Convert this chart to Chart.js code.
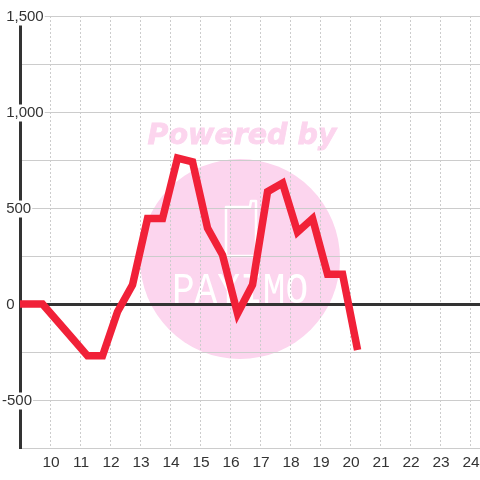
<!DOCTYPE html>
<html><head><meta charset="utf-8">
<style>html,body{margin:0;padding:0;background:#fff}#c{display:block}</style>
<script src="https://cdn.jsdelivr.net/npm/chart.js@4"></script></head>
<body><canvas id="c" width="480" height="480" style="width:480px;height:480px"></canvas>
<script>
const hours = [8.75,9.25,9.75,10.25,10.75,11.25,11.75,12.25,12.75,13.25,13.75,14.25,14.75,15.25,15.75,16.25,16.75,17.25,17.75,18.25,18.75,19.25,19.75,20.25];
const values = [0,0,0,-90,-180,-270,-270,-40,100,445,445,760,740,395,255,-50,100,585,630,375,445,155,155,-240];
const yLabelStep = 500;
const xMin = 9, xMax = 24.33, yMin = -750, yMax = 1500, yStep = 250;

const watermark = {
  id:'watermark',
  beforeDraw(chart){
    const c = chart.ctx; c.save();
    c.fillStyle='#fcd5ee';
    c.beginPath(); c.arc(240,259,100,0,Math.PI*2); c.fill();
    c.font='italic bold 28.5px "DejaVu Sans"';
    c.textAlign='center'; c.textBaseline='alphabetic';
    c.strokeStyle='#fcd5ee'; c.lineWidth=0.8;
    c.fillText('Powered by',242,144);
    c.strokeText('Powered by',242,144);
    c.strokeStyle='#fff'; c.lineWidth=2.5; c.lineJoin='round';
    c.beginPath();
    c.moveTo(226,256);c.lineTo(226,207);c.lineTo(250,207);c.lineTo(251,201);c.lineTo(256,201);c.lineTo(256,256);c.closePath();
    c.stroke();
    c.fillStyle='#fff';
    c.translate(240,303); c.scale(0.86,1);
    c.font='44px "Liberation Mono"';
    c.fillText('PAYIMO',0,0);
    c.restore();
  }
};
new Chart(document.getElementById('c'),{
  type:'line',
  data:{datasets:[{data:hours.map((h,i)=>({x:h,y:values[i]})),borderColor:'#f12138',borderWidth:7.5,tension:0,pointRadius:0,borderJoinStyle:'miter',borderCapStyle:'butt',fill:false}]},
  plugins:[watermark],
  options:{
    responsive:false,animation:false,
    layout:{padding:{top:16,right:0,bottom:0,left:0}},
    plugins:{legend:{display:false},title:{display:false},tooltip:{enabled:false}},
    scales:{
      x:{type:'linear',min:xMin,max:xMax,
        afterFit(s){s.height=32;s.paddingRight=0;s.paddingLeft=0},
        grid:{color:'#ccc',lineWidth:1,drawTicks:false},
        border:{color:'#ccc',width:1,dash:[2,2]},
        ticks:{stepSize:1,autoSkip:false,includeBounds:false,maxRotation:0,padding:5,labelOffset:1,color:'#333',font:{family:'"Liberation Sans"',size:15.5},
          callback:v=>(v===xMin||!Number.isInteger(v))?'':String(v)}},
      y:{min:yMin,max:yMax,
        afterFit(s){s.width=20},
        grid:{color:c=>c.tick.value===0?'#333':'#ccc',lineWidth:c=>c.tick.value===0?3:1,drawTicks:false},
        border:{color:'#333',width:3},
        ticks:{stepSize:yStep,autoSkip:false,mirror:true,padding:-18,labelOffset:1,color:'#333',font:{family:'"Liberation Sans"',size:15,lineHeight:1},
          showLabelBackdrop:true,backdropColor:'#fff',backdropPadding:{top:1,bottom:1,left:1,right:1},
          callback:v=>v%yLabelStep!==0?'':(v<0?'-':' ')+Math.abs(v).toLocaleString('en-US')}}
    }
  }
});
</script></body></html>
